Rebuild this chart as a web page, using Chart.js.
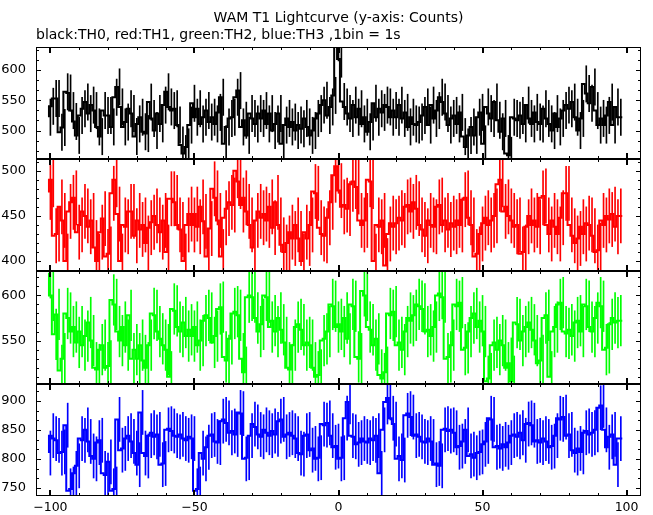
<!DOCTYPE html>
<html><head><meta charset="utf-8">
<script src="https://cdn.jsdelivr.net/npm/chart.js@4.4.1/dist/chart.umd.min.js"></script>
<style>
html,body{margin:0;padding:0;background:#fff;}
#wrap{position:relative;width:653px;height:515px;overflow:hidden;background:#fff;}
canvas{position:absolute;left:0;}
</style></head><body>
<div id="wrap">
<canvas id="c0" width="653" height="162" style="top:0px"></canvas>
<canvas id="c1" width="653" height="118" style="top:156px"></canvas>
<canvas id="c2" width="653" height="119" style="top:268px"></canvas>
<canvas id="c3" width="653" height="134" style="top:381px"></canvas>
</div>
<script>
// ---------------- data ----------------
const titleText = 'WAM T1 Lightcurve (y-axis: Counts)';
const subtitleText = 'black:TH0, red:TH1, green:TH2, blue:TH3 ,1bin = 1s';
const firstBin = -100;   // centre of first 1 s bin (s)
const binWidth = 1;      // s

const th0 = [
522,540,553,553,497,505,564,562,533,515, 492,525,536,547,528,542,533,506,490,533,
525,525,506,555,572,539,506,514,536,528, 490,511,522,498,495,547,520,500,528,511,
542,564,539,533,536,509,476,462,473,509, 545,522,536,511,522,533,514,522,511,530,
555,478,506,520,522,555,566,506,517,492, 528,520,511,528,520,533,511,528,500,511,
528,478,509,520,506,514,500,509,503,520, 506,492,500,520,528,542,550,525,539,558,
645,618,548,539,528,520,542,522,536,511, 522,498,514,545,522,536,530,542,539,522,
533,522,542,520,530,506,522,511,509,514, 525,539,509,542,520,533,555,547,528,509,
520,525,511,530,490,473,492,506,492,522, 530,478,539,528,520,547,517,498,520,462,
459,522,520,517,525,511,542,520,511,530, 514,511,536,520,511,500,528,506,520,533,
542,536,547,522,500,520,577,561,545,572, 533,509,520,509,525,547,509,539,522];
const th1 = [
476,490,428,430,460,445,400,455,465,470, 432,440,455,450,438,445,415,400,432,447,
405,408,475,490,452,400,440,438,455,455, 428,445,435,440,420,437,443,450,440,432,
445,410,469,469,465,440,435,400,440,452, 440,452,438,460,444,405,436,480,470,445,
405,448,458,465,462,500,488,462,470,455, 440,415,445,455,448,452,445,460,437,465,
440,418,410,420,432,425,440,425,400,432, 425,440,477,475,437,430,428,448,465,495,
505,478,460,462,458,485,488,482,445,440, 445,490,488,400,440,438,445,395,430,442,
438,442,448,445,460,462,455,465,458,440, 435,428,445,440,438,460,462,440,445,435,
442,438,445,440,468,470,448,440,405,408, 430,442,448,440,445,450,485,490,455,460,
450,445,438,440,408,410,438,450,440,445, 438,470,472,440,430,445,438,430,448,475,
475,440,428,420,425,438,430,442,440,428, 410,412,445,440,450,446,452,438,450];
const th2 = [
625,600,557,579,517,530,580,575,560,565, 548,560,545,555,570,550,520,518,540,545,
520,522,595,590,560,550,565,545,578,530, 540,530,545,528,520,545,580,578,560,552,
545,540,510,585,583,565,560,570,555,562, 555,565,545,550,572,578,575,548,555,585,
587,532,528,552,580,582,578,530,515,598, 600,598,575,560,568,600,598,565,572,560,
575,562,548,520,518,545,565,568,562,545, 548,545,520,510,512,550,552,560,590,588,
565,568,560,575,552,590,588,532,530,605, 600,565,562,545,552,512,508,515,580,578,
582,545,548,540,560,575,572,578,590,588, 585,560,562,555,565,600,602,598,530,532,
545,590,588,592,540,542,560,575,580,565, 572,560,505,508,545,548,540,550,545,520,
525,505,570,568,550,560,565,570,562,550, 525,528,575,578,510,560,565,590,592,560,
558,562,555,570,572,560,590,588,565,560, 575,592,588,540,542,568,575,570,572];
const th3 = [
810,840,835,832,810,812,858,745,748,775, 788,835,832,850,830,805,800,828,832,775,
772,795,745,748,868,815,818,835,840,830, 810,790,880,810,805,840,845,838,842,790,
792,850,852,848,840,838,842,835,832,838, 835,745,748,810,800,820,840,842,830,828,
865,868,862,845,848,842,880,878,800,802, 840,860,855,842,838,850,845,840,848,842,
865,868,838,842,845,840,835,810,808,840, 842,815,818,800,802,860,858,862,840,820,
822,800,802,870,898,840,838,825,828,835, 830,828,835,832,840,775,850,898,905,870,
860,800,805,798,875,878,872,840,842,838, 830,828,835,830,790,792,788,850,852,848,
850,845,820,822,830,850,805,808,802,810, 812,825,830,870,868,820,822,818,825,820,
828,840,842,838,845,832,860,862,858,830, 832,828,835,830,820,822,840,870,868,872,
840,842,815,810,818,812,845,848,842,845, 850,888,892,850,820,838,842,790,835];

const seriesColors = ['#000000', '#ff0000', '#00ff00', '#0000ff'];
const errHalf   = [30, 30, 28, 38];          // error-bar half length (counts)
const yMin      = [453, 389, 502, 736];
const yMax      = [638, 513, 627, 929];
const yMajor0 = [500, 550, 600];
const yMajor1 = [400, 450, 500];
const yMajor2 = [550, 600];
const yMajor3 = [750, 800, 850, 900];
const ySubdiv  = [3, 5, 5, 3];
const xMin = -105, xMax = 105;
const xMajorTicks = [-100, -50, 0, 50, 100];
const xMinorTicks = [-100,-90,-80,-70,-60,-50,-40,-30,-20,-10,0,10,20,30,40,50,60,70,80,90,100];

// ---------------- helpers ----------------
Chart.defaults.font.family = 'DejaVu Sans';
Chart.defaults.color = '#000';

function binCentres(n) { const a = []; for (let i = 0; i < n; i++) a.push(firstBin + i * binWidth); return a; }
function stepPoints(vals) {
  const c = binCentres(vals.length);
  const pts = c.map((t, i) => ({x: t - binWidth / 2, y: vals[i]}));
  pts.push({x: c[c.length - 1] + binWidth / 2, y: vals[vals.length - 1]});
  return pts;
}
function errPoints(vals, e) {
  const c = binCentres(vals.length);
  return c.map((t, i) => ({x: t, y: [vals[i] - e, vals[i] + e]}));
}

const frameTicks = {
  id: 'frameTicks',
  afterDatasetsDraw(chart, args, o) {
    const {ctx, chartArea: a} = chart;
    const xs = chart.scales.x, ys = chart.scales.y;
    const L = Math.round(a.left), R = Math.round(a.right), T = Math.round(a.top), B = Math.round(a.bottom);
    ctx.save();
    ctx.fillStyle = '#000';
    xMinorTicks.forEach(v => { const p = Math.round(xs.getPixelForValue(v)); ctx.fillRect(p, T, 1, 3); ctx.fillRect(p, B - 3, 1, 3); });
    xMajorTicks.forEach(v => { const p = Math.round(xs.getPixelForValue(v)); ctx.fillRect(p - 1, T, 2, 6); ctx.fillRect(p - 1, B - 6, 2, 6); });
    const maj = o.major, step = o.step, sub = step / o.sub;
    const k0 = Math.ceil((ys.min - maj[0]) / sub), k1 = Math.floor((ys.max - maj[0]) / sub);
    for (let k = k0; k <= k1; k++) {
      const v = maj[0] + k * sub;
      const isMaj = ((k % o.sub) + o.sub) % o.sub === 0;
      const len = isMaj ? 5 : 3;
      const p = Math.round(ys.getPixelForValue(v));
      ctx.fillRect(L, p, len, 1);
      ctx.fillRect(R - len, p, len, 1);
    }
    ctx.strokeStyle = '#000';
    ctx.lineWidth = 1;
    ctx.strokeRect(L + 0.5, T + 0.5, R - L - 1, B - T - 1);
    ctx.restore();
  }
};

function makePanel(idx, canvasId, values, majors, showX, withTitle) {
  const color = seriesColors[idx];
  const opts = {
    responsive: false, animation: false, devicePixelRatio: 1,
    layout: {padding: {left: 0, right: 12, top: withTitle ? 0 : 3, bottom: showX ? 0 : 3}},
    scales: {
      x: {
        type: 'linear', min: xMin, max: xMax, display: showX, offset: false,
        grid: {display: false, drawTicks: false, offset: false}, border: {display: false},
        afterBuildTicks: s => { s.ticks = xMajorTicks.map(v => ({value: v})); },
        afterFit: s => { if (showX) { s.height = 19; } s.paddingLeft = 0; s.paddingRight = 0; },
        ticks: {autoSkip: false, maxRotation: 0, padding: 4, color: '#000',
          font: {size: 12.5}, callback: v => String(v).replace('-', '\u2212')}
      },
      y: {
        type: 'linear', min: yMin[idx], max: yMax[idx], position: 'left',
        grid: {display: false, drawTicks: false}, border: {display: false},
        afterBuildTicks: s => { s.ticks = majors.map(v => ({value: v})); },
        afterFit: s => { s.width = 36; s.paddingTop = 0; s.paddingBottom = 0; },
        ticks: {autoSkip: false, padding: 10, color: '#000', font: {size: 13}}
      }
    },
    plugins: {
      legend: {display: false},
      tooltip: {enabled: false},
      title: {display: withTitle, text: titleText, fullSize: false, align: 'center', color: '#000',
        font: {size: 14, weight: 'normal'}, padding: {top: 10.4, bottom: 0}},
      subtitle: {display: withTitle, text: subtitleText, fullSize: false, align: 'start', color: '#000',
        font: {size: 14, weight: 'normal'}, padding: {top: 0.2, bottom: 2.8}},
      frameTicks: {major: majors, step: 50, sub: ySubdiv[idx]}
    }
  };
  return new Chart(document.getElementById(canvasId), {
    type: 'line',
    data: {
      datasets: [
        {type: 'bar', data: errPoints(values, errHalf[idx]), backgroundColor: color,
         borderWidth: 0, barThickness: 1, grouped: false, order: 2},
        {type: 'line', data: stepPoints(values), borderColor: color, borderWidth: 2,
         stepped: 'after', pointRadius: 0, fill: false, tension: 0, order: 1}
      ]
    },
    options: opts,
    plugins: [frameTicks]
  });
}

makePanel(0, 'c0', th0, yMajor0, false, true);
makePanel(1, 'c1', th1, yMajor1, false, false);
makePanel(2, 'c2', th2, yMajor2, false, false);
makePanel(3, 'c3', th3, yMajor3, true, false);
</script>
</body></html>
